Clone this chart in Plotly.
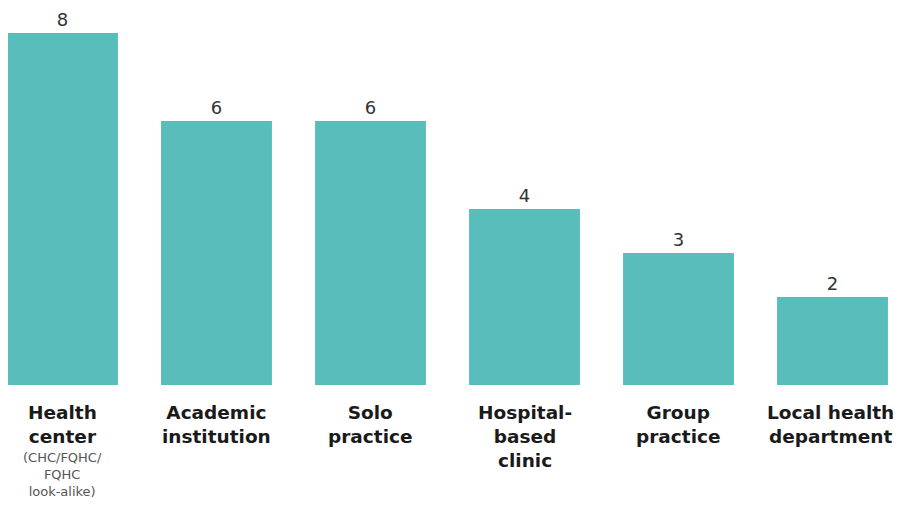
import plotly.graph_objects as go

categories = ["Health<br>center", "Academic<br>institution", "Solo<br>practice",
              "Hospital-<br>based<br>clinic", "Group<br>practice", "Local health<br>department"]
subtitles = ["(CHC/FQHC/<br>FQHC<br>look-alike)", "", "", "", "", ""]
values = [8, 6, 6, 4, 3, 2]

xs = list(range(len(values)))

W, H = 885, 490
fig = go.Figure()
fig.add_trace(go.Bar(
    x=xs, y=values, width=0.72,
    marker=dict(color="#58BDBB", line=dict(width=0)),
    text=[str(v) for v in values], textposition="outside",
    textfont=dict(family="DejaVu Sans", size=18, color="#333333"),
    cliponaxis=False,
))

for i, (c, s) in enumerate(zip(categories, subtitles)):
    fig.add_annotation(x=i, y=0, xref="x", yref="y", text="<b>" + c + "</b>",
                       showarrow=False, yanchor="top", yshift=-15,
                       xshift=-2 if i == len(values) - 1 else 0,
                       font=dict(family="DejaVu Sans", size=18.5, color="#1a1a1a"))
    if s:
        fig.add_annotation(x=i, y=0, xref="x", yref="y", text=s,
                           showarrow=False, yanchor="top", yshift=-63,
                           font=dict(family="DejaVu Sans", size=13, color="#555555"))

fig.update_layout(
    width=W, height=H,
    margin=dict(l=0, r=0, t=0, b=113),
    paper_bgcolor="white", plot_bgcolor="white",
    showlegend=False,
    xaxis=dict(range=[-54.5/154, (W-54.5)/154], showticklabels=False,
               showgrid=False, zeroline=False, showline=False, ticks=""),
    yaxis=dict(range=[0, 377/44], visible=False),
)

fig.write_html("out.html")
